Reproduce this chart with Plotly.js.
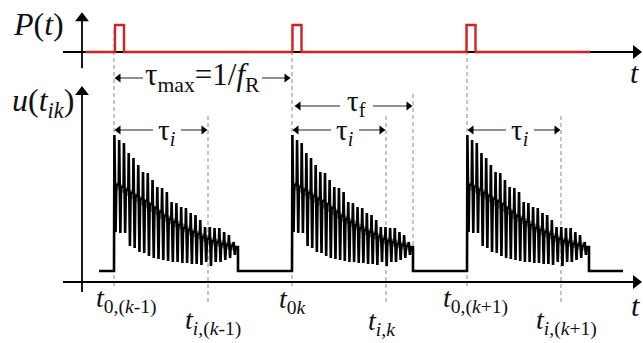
<!DOCTYPE html>
<html><head><meta charset="utf-8">
<script src="https://cdn.plot.ly/plotly-3.0.1.min.js"></script>
<style>html,body{margin:0;padding:0;background:#fff}</style>
</head><body><div id="chart" style="width:643px;height:343px"></div>
<script>
// ---------------- data ----------------
const burstStart = [114, 292, 467];   // t_0,(k-1), t_0k, t_0,(k+1)
const burstInfo  = [208, 386, 561];   // t_i,(k-1), t_i,k, t_i,(k+1)
const burstEnd   = [238, 413, 589];
const pulseStart = [115, 292.5, 466.5];
const pulseWidth = 9;
const pulseLevel = 1;
const pLineStart = 86, pLineEnd = 590;
const uBaseline = 0.11;
const baselineStart = 99, baselineEnd = 623;
const tauFEnd = 413;
const spikePeaks   = [1.47,1.42,1.39,1.29,1.24,1.17,1.10,1.09,1.02,0.95,0.94,0.90,0.80,0.79,0.75,0.74,0.69,0.67,0.62,0.55,0.55,0.54,0.54,0.50,0.47,0.40];
const spikeTroughs = [0.50,0.49,0.49,0.36,0.34,0.30,0.29,0.26,0.24,0.23,0.22,0.21,0.20,0.20,0.19,0.19,0.18,0.18,0.17,0.20,0.16,0.20,0.20,0.22,0.24,0.27];
const spikeMids    = [0.97,0.95,0.92,0.89,0.86,0.83,0.81,0.78,0.74,0.70,0.66,0.63,0.60,0.57,0.54,0.52,0.50,0.48,0.45,0.43,0.41,0.40,0.38,0.37,0.36,0.35];
const t0Labels = ['<i>t</i><sub>0,(<i>k</i>-1)</sub>', '<i>t</i><sub>0<i>k</i></sub>', '<i>t</i><sub>0,(<i>k</i>+1)</sub>'];
const tiLabels = ['<i>t</i><sub><i>i</i>,(<i>k</i>-1)</sub>', '<i>t</i><sub><i>i</i>,<i>k</i></sub>', '<i>t</i><sub><i>i</i>,(<i>k</i>+1)</sub>'];
const t0LabelShift = [12, 0, 8];
const tiLabelShift = [5, -5, 5];

// ---------------- helpers ----------------
const FONT = 'Liberation Serif';
const py = p => 1 - p / 343;   // pixel row -> paper y
const traces = [];
const line = (x, y, yaxis, color, width) => traces.push({x, y, xaxis: 'x', yaxis, mode: 'lines',
  line: {color, width}, hoverinfo: 'skip'});
const head = (x, y, yaxis, symbol, size) => traces.push({x: [x], y: [y], xaxis: 'x', yaxis, mode: 'markers',
  marker: {symbol, size, color: '#000', line: {width: 0}}, hoverinfo: 'skip'});

// axes
line([63, 634], [0, 0], 'y2', '#000', 1.8);
line([82, 82], [-0.60, 1.25], 'y2', '#000', 1.8);
head(636, 0, 'y2', 'triangle-right', 12);
head(82, 1.25, 'y2', 'triangle-up', 12);
line([63, 634], [0, 0], 'y', '#000', 1.8);
line([82, 82], [-0.10, 1.90], 'y', '#000', 1.8);
head(636, 0, 'y', 'triangle-right', 12);
head(82, 1.90, 'y', 'triangle-up', 12);

// u(t)
const ux = [baselineStart], uy = [uBaseline];
const N = spikePeaks.length;
burstStart.forEach((t0, b) => {
  const end = burstEnd[b];
  const per = (end - t0) / N;
  ux.push(t0); uy.push(uBaseline);
  const mx = [], my = [];
  for (let i = 0; i < N; i++) {
    const xi = t0 + i * per;
    ux.push(xi + 0.4, xi + 1.6, xi + 2.3, xi + per);
    uy.push(spikePeaks[i], spikeTroughs[i], spikeMids[i], spikeMids[i]);
    mx.push(xi + 1.2); my.push(spikeMids[i]);
  }
  ux.push(end); uy.push(uBaseline);
  line(mx, my, 'y', 'rgba(0,0,0,0.45)', 7);   // dense middle band of the oscillation
});
ux.push(baselineEnd); uy.push(uBaseline);
line(ux, uy, 'y', '#000', 2.6);

// P(t)
const px = [pLineStart], pyv = [0];
pulseStart.forEach(s => { px.push(s, s, s + pulseWidth, s + pulseWidth); pyv.push(0, pulseLevel, pulseLevel, 0); });
px.push(pLineEnd); pyv.push(0);
line(px, pyv, 'y2', '#d42020', 2.4);

// tau arrows (rows 78, 106, 130 px -> u units)
const uRow = p => (282 - p) / 100;
const tauArrow = (xHead, xTail, p, dir) => {
  line([xTail, xHead + (dir === 'left' ? 3 : -3)], [uRow(p), uRow(p)], 'y', '#222', 1);
  head(xHead + (dir === 'left' ? 3.5 : -3.5), uRow(p), 'y', dir === 'left' ? 'triangle-left' : 'triangle-right', 8);
};
tauArrow(115, 143, 78, 'left'); tauArrow(290, 262, 78, 'right');
tauArrow(295, 340, 106, 'left'); tauArrow(412, 373, 106, 'right');
burstStart.forEach((x, b) => { tauArrow(x + 1, x + 39, 130, 'left'); tauArrow(burstInfo[b] - 1, burstInfo[b] - 27, 130, 'right'); });

// ---------------- shapes (dashed guides) ----------------
const dash = (x, p1, p2) => ({type: 'line', xref: 'x', yref: 'paper', x0: x, x1: x, y0: py(p1), y1: py(p2),
  line: {color: '#8a8a8a', width: 1, dash: '4px,3px'}, layer: 'below'});
const shapes = [];
burstStart.forEach(x => shapes.push(dash(x, 30, 289)));
burstInfo.forEach(x => shapes.push(dash(x, 116, 302)));
shapes.push(dash(tauFEnd, 94, 270));

// ---------------- text annotations ----------------
const ann = [];
const txt = (x, p, text, size) => ({x, y: py(p), xref: 'x', yref: 'paper', text, showarrow: false,
  xanchor: 'center', yanchor: 'middle', font: {family: FONT, size: size || 24, color: '#111'}});
ann.push(txt(38, 24, '<i>P</i>(<i>t</i>)', 32));
ann.push(txt(43, 103, '<i>u</i>(<i>t</i><sub><i>ik</i></sub>)', 32));
ann.push(txt(634, 72, '<i>t</i>', 30));
ann.push(txt(635, 305, '<i>t</i>', 30));
burstStart.forEach((x, b) => ann.push(txt(x + t0LabelShift[b], 300, t0Labels[b], 28)));
burstInfo.forEach((x, b) => ann.push(txt(x + tiLabelShift[b], 322, tiLabels[b], 28)));
ann.push(txt(202, 77, 'τ<sub>max</sub>=1/<i>f</i><sub>R</sub>', 31));
ann.push(txt(356, 103, 'τ<sub>f</sub>', 29));
burstStart.forEach(x => ann.push(txt(x + 53, 132, 'τ<sub><i>i</i></sub>', 29)));

const layout = {
  width: 643, height: 343, margin: {l: 0, r: 0, t: 0, b: 0},
  paper_bgcolor: '#fff', plot_bgcolor: '#fff', showlegend: false,
  font: {family: FONT},
  xaxis: {range: [0, 643], visible: false, fixedrange: true},
  yaxis: {domain: [0, 0.79592], range: [-0.61, 2.12], visible: false},
  yaxis2: {domain: [0.79592, 1], range: [-0.6667, 1.9259], visible: false},
  shapes, annotations: ann
};
Plotly.newPlot('chart', traces, layout, {staticPlot: true});
</script></body></html>
